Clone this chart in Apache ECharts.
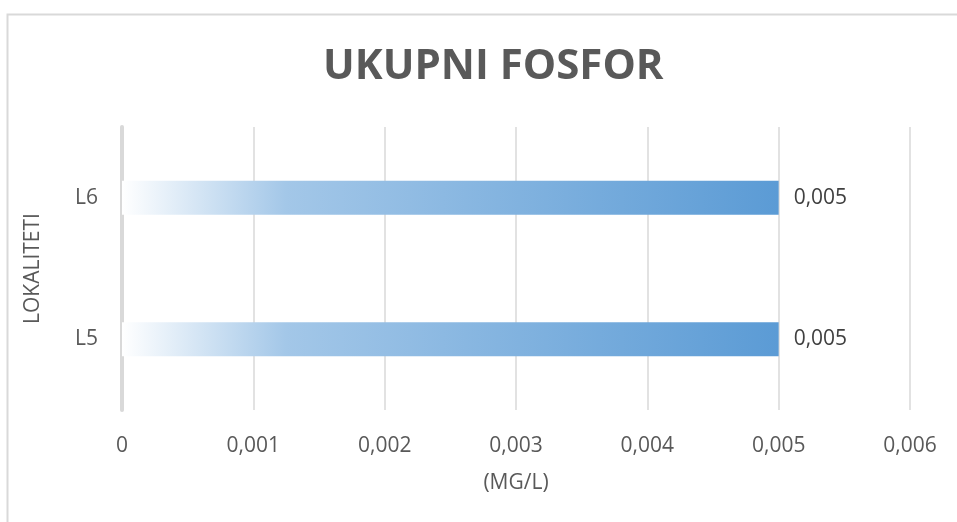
<!DOCTYPE html>
<html>
<head>
<meta charset="utf-8">
<script src="https://cdn.jsdelivr.net/npm/echarts@6/dist/echarts.min.js"></script>
<style>
  html, body { margin: 0; padding: 0; background: #fff; }
  #main { width: 957px; height: 522px; }
</style>
</head>
<body>
<div id="main"></div>
<script>
var categories = ['L5', 'L6'];
var values = [0.005, 0.005];
var axisMax = 0.006;
var axisStep = 0.001;

var FONT = 'Open Sans';

function fmt(v) {
    return String(+Number(v).toFixed(3)).replace('.', ',');
}

var myChart = echarts.init(document.getElementById('main'));

var option = {
    backgroundColor: '#fff',
    title: {
        text: 'UKUPNI FOSFOR',
        left: 318,
        top: 41,
        textStyle: { fontSize: 42, fontWeight: 'bold', color: '#595959', fontFamily: FONT }
    },
    graphic: [{
        type: 'rect',
        shape: { x: 7.5, y: 14.5, width: 1000, height: 600 },
        style: { fill: 'none', stroke: '#d9d9d9', lineWidth: 2 },
        silent: true
    }],
    grid: { left: 122, right: 47, top: 127, bottom: 112 },
    xAxis: {
        type: 'value',
        min: 0,
        max: axisMax,
        interval: axisStep,
        name: '(MG/L)',
        nameLocation: 'middle',
        nameGap: 63,
        nameTextStyle: { fontSize: 21, color: '#595959', fontFamily: FONT },
        axisLine: { show: false },
        axisTick: { show: false },
        axisLabel: { fontSize: 21, color: '#595959', margin: 26, fontFamily: FONT, formatter: fmt },
        splitLine: { lineStyle: { color: '#d9d9d9', width: 1.5 } }
    },
    yAxis: {
        type: 'category',
        data: categories,
        name: 'LOKALITETI',
        nameLocation: 'middle',
        nameRotate: 90,
        nameGap: 78,
        nameTextStyle: { fontSize: 21, color: '#595959', fontFamily: FONT },
        axisLine: { show: true, lineStyle: { color: '#d9d9d9', width: 4 } },
        axisTick: { show: false },
        axisLabel: { fontSize: 21, color: '#595959', margin: 24, fontFamily: FONT }
    },
    series: [{
        type: 'bar',
        data: values,
        barWidth: '24%',
        itemStyle: {
            color: new echarts.graphic.LinearGradient(0, 0, 1, 0, [
                { offset: 0, color: '#ffffff' },
                { offset: 0.25, color: '#a3c7e8' },
                { offset: 1, color: '#5b9bd5' }
            ])
        },
        label: {
            show: true,
            position: 'right',
            distance: 15,
            fontSize: 21,
            color: '#404040',
            fontFamily: FONT,
            formatter: function (p) { return fmt(p.value); }
        }
    }]
};
myChart.setOption(option);
</script>
</body>
</html>
